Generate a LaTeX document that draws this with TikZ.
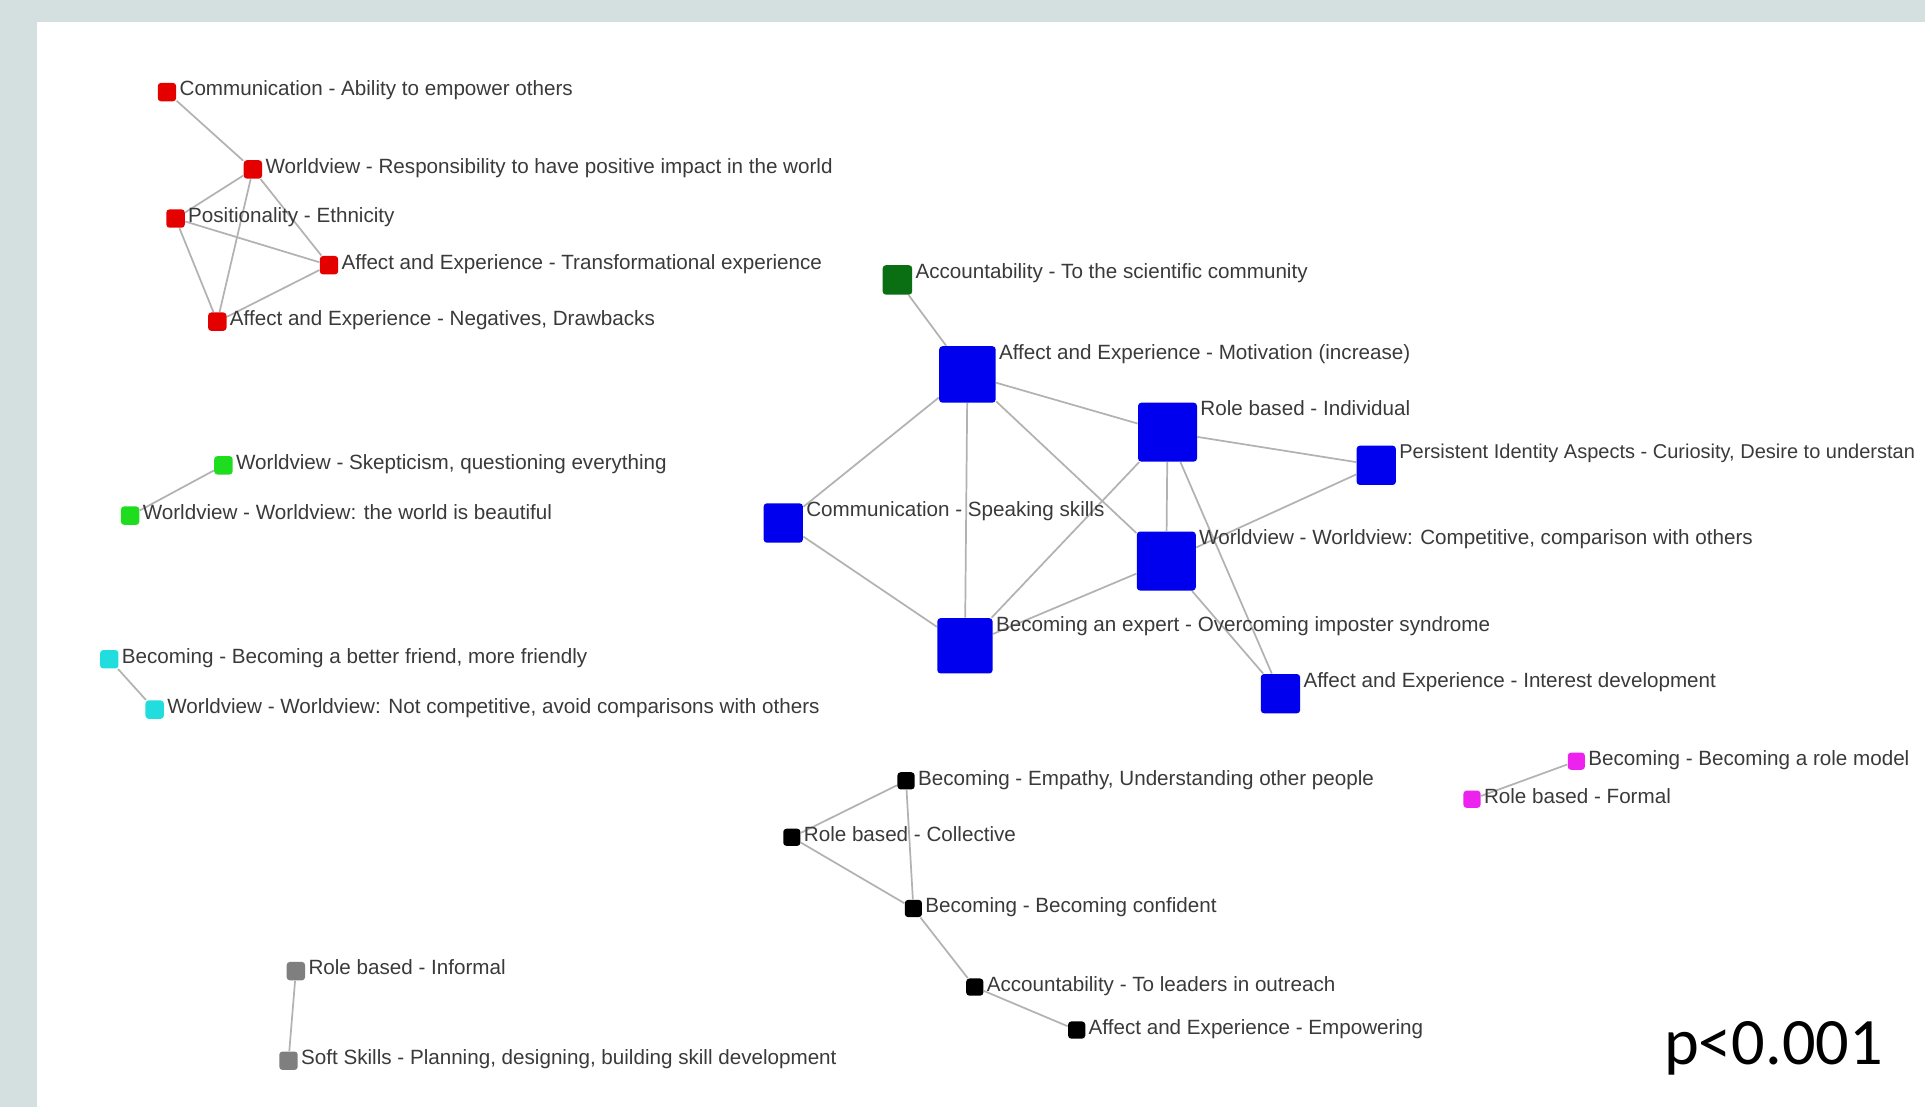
\documentclass[tikz,border=0pt]{standalone}
\usepackage{fontspec}
\setmainfont{Liberation Sans}
\newfontfamily\pfont{Carlito}
\definecolor{frame}{HTML}{D4E0DF}
\definecolor{nred}{HTML}{E50000}
\definecolor{nblue}{HTML}{0000EE}
\definecolor{ndkgreen}{HTML}{0A6E12}
\definecolor{ngreen}{HTML}{1EDC1E}
\definecolor{ncyan}{HTML}{22DDDD}
\definecolor{nmag}{HTML}{EE22EE}
\definecolor{ngray}{HTML}{7F7F7F}
\definecolor{nblack}{HTML}{000000}
\definecolor{ltext}{HTML}{3A3A3A}
\pgfdeclarelayer{bg}
\pgfdeclarelayer{edges}
\pgfsetlayers{bg,edges,main}
\newcommand\gn[6]{%
  \node[sq=#4, fill=#5] (#1) at (#2,#3) {};
  \node[lbl] (#1t) at ([xshift=1pt,yshift=-5.5pt]#1.north east) {#6};}
\begin{document}
\begin{tikzpicture}[x=0.5pt,y=-0.5pt,
  sq/.style={rectangle, inner sep=0pt, minimum size=#1*0.5pt, rounded corners=1.3pt},
  lbl/.style={inner sep=0pt, anchor=base west, text=ltext, font=\fontsize{8.4}{10}\selectfont},
  link/.style={draw=black!30, line width=0.7pt}]
\begin{pgfonlayer}{bg}
\fill[frame] (0,0) rectangle (1568,902);
\fill[white] (30,18) rectangle (1568,902);
\end{pgfonlayer}
\clip (0,0) rectangle (1568,902);
\useasboundingbox (0,0) rectangle (1568,902);
% red cluster
\gn{R1}{136}{75}{15}{nred}{Communication - Ability to empower others}
\gn{R2}{206}{138}{15}{nred}{Worldview - Responsibility to have positive impact in the world}
\gn{R3}{143}{178}{15}{nred}{Positionality - Ethnicity}
\gn{R4}{268}{216}{15}{nred}{Affect and Experience - Transformational experience}
\gn{R5}{177}{262}{15}{nred}{Affect and Experience - Negatives, Drawbacks}
% green
\gn{G1}{182}{379}{15}{ngreen}{Worldview - Skepticism, questioning everything}
\gn{G2}{106}{420}{15}{ngreen}{Worldview - Worldview: the world is beautiful}
% cyan
\gn{C1}{89}{537}{15}{ncyan}{Becoming - Becoming a better friend, more friendly}
\gn{C2}{126}{578}{15}{ncyan}{Worldview - Worldview: Not competitive, avoid comparisons with others}
% gray
\gn{Y1}{241}{791}{15}{ngray}{Role based - Informal}
\gn{Y2}{235}{864}{15}{ngray}{Soft Skills - Planning, designing, building skill development}
% dark green
\gn{DG}{731}{228}{24}{ndkgreen}{Accountability - To the scientific community}
% blue
\gn{B1}{788}{305}{46}{nblue}{Affect and Experience - Motivation (increase)}
\gn{B2}{951}{352}{48}{nblue}{Role based - Individual}
\gn{B3}{1121}{379}{32}{nblue}{{\fontsize{8.15}{10}\selectfont Persistent Identity Aspects - Curiosity, Desire to understan}}
\gn{B4}{638}{426}{32}{nblue}{Communication - Speaking skills}
\gn{B5}{950}{457}{48}{nblue}{Worldview - Worldview: Competitive, comparison with others}
\gn{B6}{786}{526}{45}{nblue}{Becoming an expert - Overcoming imposter syndrome}
\gn{B7}{1043}{565}{32}{nblue}{Affect and Experience - Interest development}
% black
\gn{K1}{738}{636}{14}{nblack}{Becoming - Empathy, Understanding other people}
\gn{K2}{645}{682}{14}{nblack}{Role based - Collective}
\gn{K3}{744}{740}{14}{nblack}{Becoming - Becoming confident}
\gn{K4}{794}{804}{14}{nblack}{Accountability - To leaders in outreach}
\gn{K5}{877}{839}{14}{nblack}{Affect and Experience - Empowering}
% magenta
\gn{M1}{1284}{620}{14}{nmag}{Becoming - Becoming a role model}
\gn{M2}{1199}{651}{14}{nmag}{Role based - Formal}
% p-value
\node[inner sep=0pt, anchor=base west, font=\pfont\fontsize{27}{30}\selectfont] (pval) at (1355,867) {p<0.001};
\begin{pgfonlayer}{edges}
\foreach \a/\b in {R1/R2,R2/R3,R2/R4,R2/R5,R3/R4,R3/R5,R4/R5,G1/G2,C1/C2,Y1/Y2,
  DG/B1,B1/B2,B1/B4,B1/B6,B1/B5,B2/B3,B2/B5,B2/B6,B2/B7,B3/B5,B5/B6,B5/B7,B4/B6,
  K1/K2,K1/K3,K2/K3,K3/K4,K4/K5,M1/M2}
  \draw[link] (\a) -- (\b);
\end{pgfonlayer}
\end{tikzpicture}
\end{document}
